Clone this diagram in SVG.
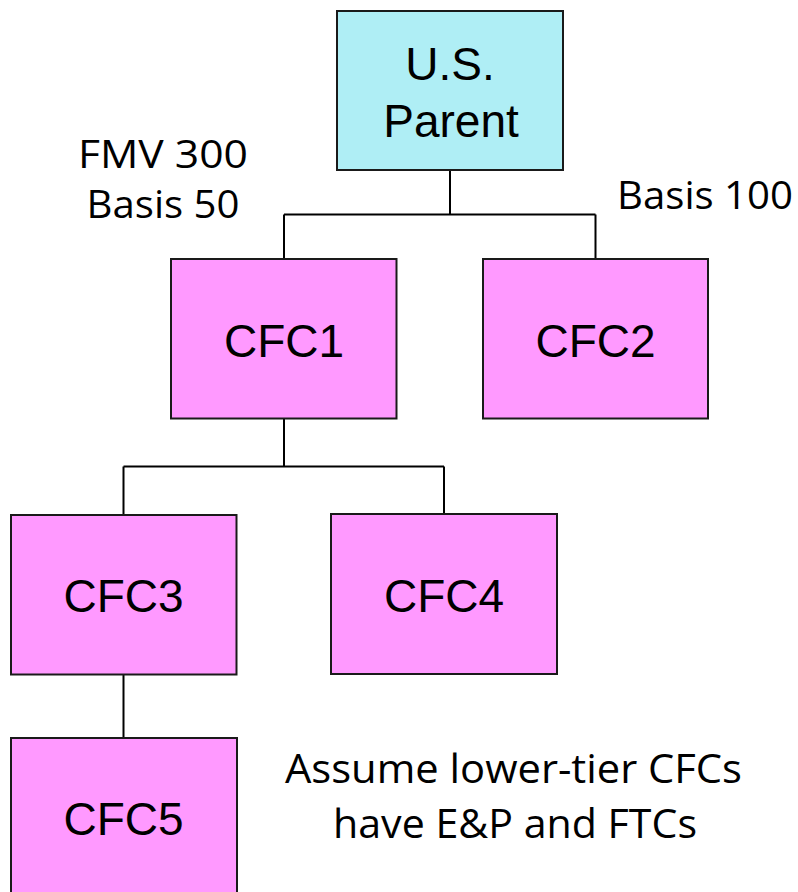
<svg xmlns="http://www.w3.org/2000/svg" width="798" height="892" viewBox="0 0 798 892">
  <style>
    .box { stroke: #1a1a1a; stroke-width: 2; }
    .parent { fill: #AFEEF5; }
    .cfc { fill: #FF99FF; }
    .lbl { font-family: "Liberation Sans", Arial, sans-serif; font-size: 46px; fill: #000; text-anchor: middle; }
    .note { font-family: "Open Sans", "Noto Sans", sans-serif; fill: #000; text-anchor: middle; }
    .conn { fill: none; stroke: #000; stroke-width: 2; }
  </style>
  <rect width="798" height="892" fill="#ffffff"/>

  <g id="connectors">
    <path class="conn" d="M450,170 V214.5 M284,214.5 H595.5 M284,214.5 V259 M595.5,214.5 V259"/>
    <path class="conn" d="M284,419 V466.5 M123.5,466.5 H444 M123.5,466.5 V515 M444,466.5 V514"/>
    <path class="conn" d="M123.5,674 V738"/>
  </g>

  <g id="us-parent">
    <rect class="box parent" x="337" y="11" width="226" height="159"/>
    <text class="lbl" x="450" y="80">U.S.</text>
    <text class="lbl" x="451" y="136.5">Parent</text>
  </g>

  <g id="cfc1">
    <rect class="box cfc" x="171" y="259" width="225.5" height="159.5"/>
    <text class="lbl" x="284" y="357">CFC1</text>
  </g>

  <g id="cfc2">
    <rect class="box cfc" x="483" y="259" width="225" height="159.5"/>
    <text class="lbl" x="595.5" y="357">CFC2</text>
  </g>

  <g id="cfc3">
    <rect class="box cfc" x="11" y="515" width="225.5" height="159.5"/>
    <text class="lbl" x="123.5" y="612">CFC3</text>
  </g>

  <g id="cfc4">
    <rect class="box cfc" x="331" y="514" width="226" height="160"/>
    <text class="lbl" x="444" y="611.5">CFC4</text>
  </g>

  <g id="cfc5">
    <rect class="box cfc" x="11" y="738" width="226" height="170"/>
    <text class="lbl" x="123.5" y="835">CFC5</text>
  </g>

  <g id="notes">
    <text class="note" font-size="38" x="163" y="168" textLength="170" lengthAdjust="spacingAndGlyphs">FMV 300</text>
    <text class="note" font-size="38" x="163" y="218" textLength="153" lengthAdjust="spacingAndGlyphs">Basis 50</text>
    <text class="note" font-size="38" x="705" y="208.5" textLength="176" lengthAdjust="spacingAndGlyphs">Basis 100</text>
    <text class="note" font-size="41" x="513.5" y="783" textLength="457" lengthAdjust="spacingAndGlyphs">Assume lower-tier CFCs</text>
    <text class="note" font-size="41" x="515" y="838" textLength="364" lengthAdjust="spacingAndGlyphs">have E&amp;P and FTCs</text>
  </g>
</svg>
